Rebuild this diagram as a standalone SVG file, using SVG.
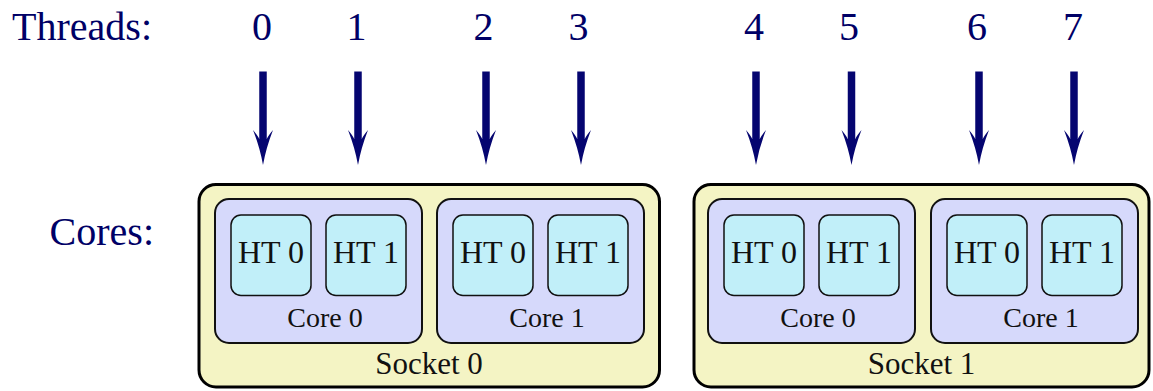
<svg xmlns="http://www.w3.org/2000/svg" width="1153" height="391" viewBox="0 0 1153 391" font-family="'Liberation Serif', 'DejaVu Serif', serif">
  <style>
    text { font-family: "Liberation Serif", "DejaVu Serif", serif; }
    .lbl { fill: #000066; font-size: 40px; }
    .num { fill: #000066; font-size: 40px; text-anchor: middle; }
    .socket { fill: #f4f4c4; stroke: #000; stroke-width: 3; }
    .core { fill: #d6d9fb; stroke: #111; stroke-width: 2; }
    .ht { fill: #c1eff9; stroke: #111; stroke-width: 1.5; }
    .ht-t { font-size: 32px; fill: #111; text-anchor: middle; }
    .core-t { font-size: 28px; fill: #111; text-anchor: middle; }
    .sock-t { font-size: 31px; fill: #111; text-anchor: middle; }
    .arrow { stroke: #050570; stroke-width: 7.5; fill: none; marker-end: url(#head); }
  </style>
  <defs>
    <marker id="head" markerUnits="userSpaceOnUse" viewBox="-12 -12 40 24" refX="0" refY="0" markerWidth="40" markerHeight="24" orient="auto">
      <path d="M 25 0 Q 8 -3 -10 -10 Q -4 -5 -1 -3.75 L -1 3.75 Q -4 5 -10 10 Q 8 3 25 0 Z" fill="#050570"/>
    </marker>
    <g id="core-box">
      <rect class="core" x="0" y="0" width="207" height="144" rx="14"/>
      <rect class="ht" x="16" y="16" width="80" height="80.5" rx="10"/>
      <rect class="ht" x="111" y="16" width="80" height="80.5" rx="10"/>
      <text class="ht-t" x="56" y="64">HT 0</text>
      <text class="ht-t" x="151" y="64">HT 1</text>
    </g>
  </defs>

  <!-- row labels -->
  <g id="row-labels">
    <text class="lbl" x="152" y="40" text-anchor="end">Threads:</text>
    <text class="lbl" x="154" y="245" text-anchor="end">Cores:</text>
  </g>

  <!-- thread numbers -->
  <g id="threads">
    <text class="num" x="262" y="40">0</text>
    <text class="num" x="356.5" y="40">1</text>
    <text class="num" x="483.5" y="40">2</text>
    <text class="num" x="578.5" y="40">3</text>
    <text class="num" x="754" y="40">4</text>
    <text class="num" x="849" y="40">5</text>
    <text class="num" x="977" y="40">6</text>
    <text class="num" x="1073" y="40">7</text>
  </g>

  <!-- socket 0 -->
  <g id="socket0">
    <rect class="socket" x="199" y="184.5" width="460.5" height="202.5" rx="17"/>
    <text class="sock-t" x="429" y="374">Socket 0</text>
  </g>
  <g id="socket0-core0" transform="translate(215,199)">
    <use href="#core-box"/>
    <text class="core-t" x="110" y="128">Core 0</text>
  </g>
  <g id="socket0-core1" transform="translate(437,199)">
    <use href="#core-box"/>
    <text class="core-t" x="110" y="128">Core 1</text>
  </g>

  <!-- socket 1 -->
  <g id="socket1">
    <rect class="socket" x="694" y="184.5" width="455" height="202.5" rx="17"/>
    <text class="sock-t" x="921.5" y="374">Socket 1</text>
  </g>
  <g id="socket1-core0" transform="translate(708,199)">
    <use href="#core-box"/>
    <text class="core-t" x="110" y="128">Core 0</text>
  </g>
  <g id="socket1-core1" transform="translate(931,199)">
    <use href="#core-box"/>
    <text class="core-t" x="110" y="128">Core 1</text>
  </g>

  <!-- thread-to-core arrows -->
  <g id="connectors">
    <line class="arrow" x1="263" y1="71.5" x2="263" y2="140"/>
    <line class="arrow" x1="358" y1="71.5" x2="358" y2="140"/>
    <line class="arrow" x1="486" y1="71.5" x2="486" y2="140"/>
    <line class="arrow" x1="581" y1="71.5" x2="581" y2="140"/>
    <line class="arrow" x1="756" y1="71.5" x2="756" y2="140"/>
    <line class="arrow" x1="851.5" y1="71.5" x2="851.5" y2="140"/>
    <line class="arrow" x1="979" y1="71.5" x2="979" y2="140"/>
    <line class="arrow" x1="1074" y1="71.5" x2="1074" y2="140"/>
  </g>
</svg>
